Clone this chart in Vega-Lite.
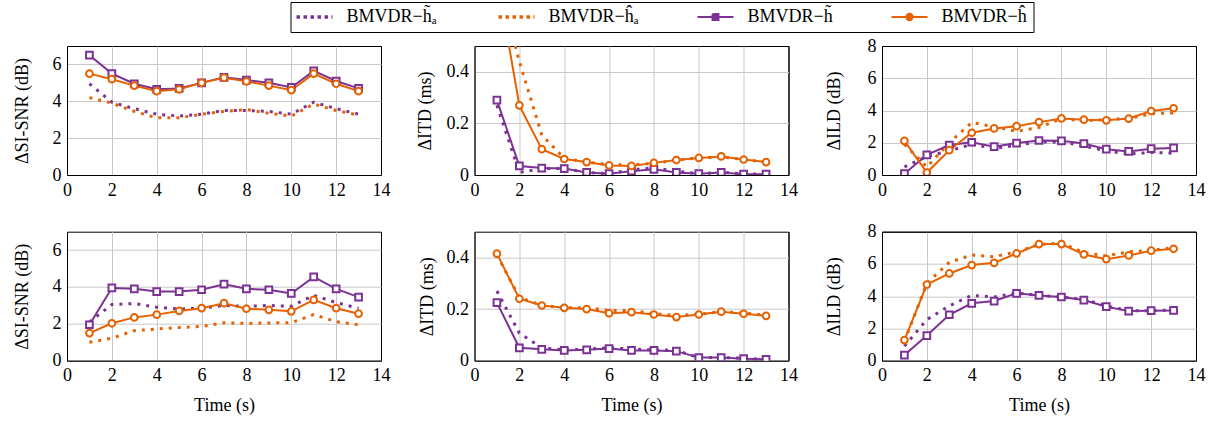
{
"$schema": "https://vega.github.io/schema/vega-lite/v6.json",
"autosize": "none",
"padding": {"left": 67, "top": 46, "right": 1153, "bottom": 378},
"background": "white",
"datasets": {"d": [
{"p":"a","s":"t","t":1,"v":6.5},{"p":"a","s":"t","t":2,"v":5.5},{"p":"a","s":"t","t":3,"v":4.95},{"p":"a","s":"t","t":4,"v":4.65},{"p":"a","s":"t","t":5,"v":4.7},{"p":"a","s":"t","t":6,"v":5.0},{"p":"a","s":"t","t":7,"v":5.3},{"p":"a","s":"t","t":8,"v":5.15},{"p":"a","s":"t","t":9,"v":5.0},{"p":"a","s":"t","t":10,"v":4.75},{"p":"a","s":"t","t":11,"v":5.65},{"p":"a","s":"t","t":12,"v":5.1},{"p":"a","s":"t","t":13,"v":4.7},
{"p":"a","s":"h","t":1,"v":5.5},{"p":"a","s":"h","t":2,"v":5.2},{"p":"a","s":"h","t":3,"v":4.85},{"p":"a","s":"h","t":4,"v":4.55},{"p":"a","s":"h","t":5,"v":4.65},{"p":"a","s":"h","t":6,"v":5.0},{"p":"a","s":"h","t":7,"v":5.28},{"p":"a","s":"h","t":8,"v":5.08},{"p":"a","s":"h","t":9,"v":4.85},{"p":"a","s":"h","t":10,"v":4.6},{"p":"a","s":"h","t":11,"v":5.5},{"p":"a","s":"h","t":12,"v":4.95},{"p":"a","s":"h","t":13,"v":4.55},
{"p":"a","s":"tA","t":1,"v":4.95},{"p":"a","s":"tA","t":2,"v":3.95},{"p":"a","s":"tA","t":3,"v":3.6},{"p":"a","s":"tA","t":4,"v":3.3},{"p":"a","s":"tA","t":5,"v":3.2},{"p":"a","s":"tA","t":6,"v":3.3},{"p":"a","s":"tA","t":7,"v":3.5},{"p":"a","s":"tA","t":8,"v":3.5},{"p":"a","s":"tA","t":9,"v":3.45},{"p":"a","s":"tA","t":10,"v":3.3},{"p":"a","s":"tA","t":11,"v":3.95},{"p":"a","s":"tA","t":12,"v":3.6},{"p":"a","s":"tA","t":13,"v":3.3},
{"p":"a","s":"hA","t":1,"v":4.2},{"p":"a","s":"hA","t":2,"v":3.9},{"p":"a","s":"hA","t":3,"v":3.45},{"p":"a","s":"hA","t":4,"v":3.1},{"p":"a","s":"hA","t":5,"v":3.1},{"p":"a","s":"hA","t":6,"v":3.3},{"p":"a","s":"hA","t":7,"v":3.45},{"p":"a","s":"hA","t":8,"v":3.55},{"p":"a","s":"hA","t":9,"v":3.35},{"p":"a","s":"hA","t":10,"v":3.2},{"p":"a","s":"hA","t":11,"v":3.85},{"p":"a","s":"hA","t":12,"v":3.5},{"p":"a","s":"hA","t":13,"v":3.25},
{"p":"b","s":"t","t":1,"v":0.29},{"p":"b","s":"t","t":2,"v":0.035},{"p":"b","s":"t","t":3,"v":0.027},{"p":"b","s":"t","t":4,"v":0.025},{"p":"b","s":"t","t":5,"v":0.01},{"p":"b","s":"t","t":6,"v":0.005},{"p":"b","s":"t","t":7,"v":0.015},{"p":"b","s":"t","t":8,"v":0.022},{"p":"b","s":"t","t":9,"v":0.01},{"p":"b","s":"t","t":10,"v":0.005},{"p":"b","s":"t","t":11,"v":0.01},{"p":"b","s":"t","t":12,"v":0.003},{"p":"b","s":"t","t":13,"v":0.003},
{"p":"b","s":"tA","t":1,"v":0.27},{"p":"b","s":"tA","t":2,"v":0.01},{"p":"b","s":"tA","t":3,"v":0.025},{"p":"b","s":"tA","t":4,"v":0.025},{"p":"b","s":"tA","t":5,"v":0.01},{"p":"b","s":"tA","t":6,"v":0.005},{"p":"b","s":"tA","t":7,"v":0.02},{"p":"b","s":"tA","t":8,"v":0.028},{"p":"b","s":"tA","t":9,"v":0.015},{"p":"b","s":"tA","t":10,"v":0.005},{"p":"b","s":"tA","t":11,"v":0.01},{"p":"b","s":"tA","t":12,"v":0.005},{"p":"b","s":"tA","t":13,"v":0.003},
{"p":"b","s":"h","t":1,"v":0.77},{"p":"b","s":"h","t":2,"v":0.27},{"p":"b","s":"h","t":3,"v":0.1},{"p":"b","s":"h","t":4,"v":0.062},{"p":"b","s":"h","t":5,"v":0.05},{"p":"b","s":"h","t":6,"v":0.037},{"p":"b","s":"h","t":7,"v":0.035},{"p":"b","s":"h","t":8,"v":0.047},{"p":"b","s":"h","t":9,"v":0.058},{"p":"b","s":"h","t":10,"v":0.066},{"p":"b","s":"h","t":11,"v":0.072},{"p":"b","s":"h","t":12,"v":0.06},{"p":"b","s":"h","t":13,"v":0.05},
{"p":"b","s":"hA","t":1,"v":0.77},{"p":"b","s":"hA","t":2,"v":0.44},{"p":"b","s":"hA","t":3,"v":0.155},{"p":"b","s":"hA","t":4,"v":0.065},{"p":"b","s":"hA","t":5,"v":0.05},{"p":"b","s":"hA","t":6,"v":0.04},{"p":"b","s":"hA","t":7,"v":0.04},{"p":"b","s":"hA","t":8,"v":0.045},{"p":"b","s":"hA","t":9,"v":0.058},{"p":"b","s":"hA","t":10,"v":0.066},{"p":"b","s":"hA","t":11,"v":0.07},{"p":"b","s":"hA","t":12,"v":0.06},{"p":"b","s":"hA","t":13,"v":0.05},
{"p":"c","s":"t","t":1,"v":0.08},{"p":"c","s":"t","t":2,"v":1.25},{"p":"c","s":"t","t":3,"v":1.86},{"p":"c","s":"t","t":4,"v":2.03},{"p":"c","s":"t","t":5,"v":1.76},{"p":"c","s":"t","t":6,"v":1.98},{"p":"c","s":"t","t":7,"v":2.14},{"p":"c","s":"t","t":8,"v":2.12},{"p":"c","s":"t","t":9,"v":1.95},{"p":"c","s":"t","t":10,"v":1.6},{"p":"c","s":"t","t":11,"v":1.46},{"p":"c","s":"t","t":12,"v":1.63},{"p":"c","s":"t","t":13,"v":1.68},
{"p":"c","s":"tA","t":1,"v":0.5},{"p":"c","s":"tA","t":2,"v":1.15},{"p":"c","s":"tA","t":3,"v":1.5},{"p":"c","s":"tA","t":4,"v":1.9},{"p":"c","s":"tA","t":5,"v":1.65},{"p":"c","s":"tA","t":6,"v":1.85},{"p":"c","s":"tA","t":7,"v":2.05},{"p":"c","s":"tA","t":8,"v":2.05},{"p":"c","s":"tA","t":9,"v":1.8},{"p":"c","s":"tA","t":10,"v":1.5},{"p":"c","s":"tA","t":11,"v":1.3},{"p":"c","s":"tA","t":12,"v":1.4},{"p":"c","s":"tA","t":13,"v":1.35},
{"p":"c","s":"h","t":1,"v":2.12},{"p":"c","s":"h","t":2,"v":0.15},{"p":"c","s":"h","t":3,"v":1.54},{"p":"c","s":"h","t":4,"v":2.62},{"p":"c","s":"h","t":5,"v":2.89},{"p":"c","s":"h","t":6,"v":3.03},{"p":"c","s":"h","t":7,"v":3.28},{"p":"c","s":"h","t":8,"v":3.51},{"p":"c","s":"h","t":9,"v":3.43},{"p":"c","s":"h","t":10,"v":3.39},{"p":"c","s":"h","t":11,"v":3.5},{"p":"c","s":"h","t":12,"v":3.97},{"p":"c","s":"h","t":13,"v":4.14},
{"p":"c","s":"hA","t":1,"v":1.9},{"p":"c","s":"hA","t":2,"v":0.5},{"p":"c","s":"hA","t":3,"v":2.0},{"p":"c","s":"hA","t":4,"v":3.25},{"p":"c","s":"hA","t":5,"v":3.0},{"p":"c","s":"hA","t":6,"v":2.7},{"p":"c","s":"hA","t":7,"v":2.95},{"p":"c","s":"hA","t":8,"v":3.5},{"p":"c","s":"hA","t":9,"v":3.35},{"p":"c","s":"hA","t":10,"v":3.45},{"p":"c","s":"hA","t":11,"v":3.5},{"p":"c","s":"hA","t":12,"v":3.8},{"p":"c","s":"hA","t":13,"v":3.85},
{"p":"d","s":"t","t":1,"v":1.95},{"p":"d","s":"t","t":2,"v":3.95},{"p":"d","s":"t","t":3,"v":3.9},{"p":"d","s":"t","t":4,"v":3.75},{"p":"d","s":"t","t":5,"v":3.75},{"p":"d","s":"t","t":6,"v":3.85},{"p":"d","s":"t","t":7,"v":4.15},{"p":"d","s":"t","t":8,"v":3.9},{"p":"d","s":"t","t":9,"v":3.85},{"p":"d","s":"t","t":10,"v":3.65},{"p":"d","s":"t","t":11,"v":4.55},{"p":"d","s":"t","t":12,"v":3.9},{"p":"d","s":"t","t":13,"v":3.45},
{"p":"d","s":"h","t":1,"v":1.5},{"p":"d","s":"h","t":2,"v":2.03},{"p":"d","s":"h","t":3,"v":2.35},{"p":"d","s":"h","t":4,"v":2.5},{"p":"d","s":"h","t":5,"v":2.7},{"p":"d","s":"h","t":6,"v":2.85},{"p":"d","s":"h","t":7,"v":3.12},{"p":"d","s":"h","t":8,"v":2.82},{"p":"d","s":"h","t":9,"v":2.76},{"p":"d","s":"h","t":10,"v":2.68},{"p":"d","s":"h","t":11,"v":3.3},{"p":"d","s":"h","t":12,"v":2.85},{"p":"d","s":"h","t":13,"v":2.55},
{"p":"d","s":"tA","t":1,"v":2.1},{"p":"d","s":"tA","t":2,"v":3.05},{"p":"d","s":"tA","t":3,"v":3.1},{"p":"d","s":"tA","t":4,"v":2.9},{"p":"d","s":"tA","t":5,"v":2.8},{"p":"d","s":"tA","t":6,"v":2.85},{"p":"d","s":"tA","t":7,"v":3.0},{"p":"d","s":"tA","t":8,"v":2.95},{"p":"d","s":"tA","t":9,"v":3.0},{"p":"d","s":"tA","t":10,"v":2.95},{"p":"d","s":"tA","t":11,"v":3.55},{"p":"d","s":"tA","t":12,"v":3.15},{"p":"d","s":"tA","t":13,"v":2.85},
{"p":"d","s":"hA","t":1,"v":1.0},{"p":"d","s":"hA","t":2,"v":1.22},{"p":"d","s":"hA","t":3,"v":1.63},{"p":"d","s":"hA","t":4,"v":1.72},{"p":"d","s":"hA","t":5,"v":1.8},{"p":"d","s":"hA","t":6,"v":1.86},{"p":"d","s":"hA","t":7,"v":2.06},{"p":"d","s":"hA","t":8,"v":2.02},{"p":"d","s":"hA","t":9,"v":2.05},{"p":"d","s":"hA","t":10,"v":2.06},{"p":"d","s":"hA","t":11,"v":2.5},{"p":"d","s":"hA","t":12,"v":2.12},{"p":"d","s":"hA","t":13,"v":1.95},
{"p":"e","s":"t","t":1,"v":0.225},{"p":"e","s":"t","t":2,"v":0.05},{"p":"e","s":"t","t":3,"v":0.044},{"p":"e","s":"t","t":4,"v":0.04},{"p":"e","s":"t","t":5,"v":0.042},{"p":"e","s":"t","t":6,"v":0.047},{"p":"e","s":"t","t":7,"v":0.04},{"p":"e","s":"t","t":8,"v":0.04},{"p":"e","s":"t","t":9,"v":0.037},{"p":"e","s":"t","t":10,"v":0.012},{"p":"e","s":"t","t":11,"v":0.012},{"p":"e","s":"t","t":12,"v":0.008},{"p":"e","s":"t","t":13,"v":0.005},
{"p":"e","s":"tA","t":1,"v":0.27},{"p":"e","s":"tA","t":2,"v":0.107},{"p":"e","s":"tA","t":3,"v":0.05},{"p":"e","s":"tA","t":4,"v":0.042},{"p":"e","s":"tA","t":5,"v":0.045},{"p":"e","s":"tA","t":6,"v":0.05},{"p":"e","s":"tA","t":7,"v":0.045},{"p":"e","s":"tA","t":8,"v":0.042},{"p":"e","s":"tA","t":9,"v":0.04},{"p":"e","s":"tA","t":10,"v":0.012},{"p":"e","s":"tA","t":11,"v":0.012},{"p":"e","s":"tA","t":12,"v":0.01},{"p":"e","s":"tA","t":13,"v":0.005},
{"p":"e","s":"h","t":1,"v":0.415},{"p":"e","s":"h","t":2,"v":0.24},{"p":"e","s":"h","t":3,"v":0.214},{"p":"e","s":"h","t":4,"v":0.205},{"p":"e","s":"h","t":5,"v":0.2},{"p":"e","s":"h","t":6,"v":0.184},{"p":"e","s":"h","t":7,"v":0.188},{"p":"e","s":"h","t":8,"v":0.179},{"p":"e","s":"h","t":9,"v":0.169},{"p":"e","s":"h","t":10,"v":0.179},{"p":"e","s":"h","t":11,"v":0.19},{"p":"e","s":"h","t":12,"v":0.182},{"p":"e","s":"h","t":13,"v":0.174},
{"p":"e","s":"hA","t":1,"v":0.41},{"p":"e","s":"hA","t":2,"v":0.245},{"p":"e","s":"hA","t":3,"v":0.215},{"p":"e","s":"hA","t":4,"v":0.205},{"p":"e","s":"hA","t":5,"v":0.205},{"p":"e","s":"hA","t":6,"v":0.195},{"p":"e","s":"hA","t":7,"v":0.195},{"p":"e","s":"hA","t":8,"v":0.182},{"p":"e","s":"hA","t":9,"v":0.175},{"p":"e","s":"hA","t":10,"v":0.18},{"p":"e","s":"hA","t":11,"v":0.19},{"p":"e","s":"hA","t":12,"v":0.185},{"p":"e","s":"hA","t":13,"v":0.175},
{"p":"f","s":"t","t":1,"v":0.35},{"p":"f","s":"t","t":2,"v":1.56},{"p":"f","s":"t","t":3,"v":2.85},{"p":"f","s":"t","t":4,"v":3.56},{"p":"f","s":"t","t":5,"v":3.7},{"p":"f","s":"t","t":6,"v":4.18},{"p":"f","s":"t","t":7,"v":4.05},{"p":"f","s":"t","t":8,"v":3.95},{"p":"f","s":"t","t":9,"v":3.76},{"p":"f","s":"t","t":10,"v":3.35},{"p":"f","s":"t","t":11,"v":3.08},{"p":"f","s":"t","t":12,"v":3.1},{"p":"f","s":"t","t":13,"v":3.12},
{"p":"f","s":"tA","t":1,"v":0.9},{"p":"f","s":"tA","t":2,"v":2.55},{"p":"f","s":"tA","t":3,"v":3.4},{"p":"f","s":"tA","t":4,"v":4.05},{"p":"f","s":"tA","t":5,"v":3.95},{"p":"f","s":"tA","t":6,"v":4.2},{"p":"f","s":"tA","t":7,"v":4.05},{"p":"f","s":"tA","t":8,"v":3.95},{"p":"f","s":"tA","t":9,"v":3.8},{"p":"f","s":"tA","t":10,"v":3.4},{"p":"f","s":"tA","t":11,"v":3.1},{"p":"f","s":"tA","t":12,"v":3.1},{"p":"f","s":"tA","t":13,"v":3.15},
{"p":"f","s":"h","t":1,"v":1.28},{"p":"f","s":"h","t":2,"v":4.72},{"p":"f","s":"h","t":3,"v":5.41},{"p":"f","s":"h","t":4,"v":5.93},{"p":"f","s":"h","t":5,"v":6.07},{"p":"f","s":"h","t":6,"v":6.65},{"p":"f","s":"h","t":7,"v":7.23},{"p":"f","s":"h","t":8,"v":7.23},{"p":"f","s":"h","t":9,"v":6.59},{"p":"f","s":"h","t":10,"v":6.3},{"p":"f","s":"h","t":11,"v":6.53},{"p":"f","s":"h","t":12,"v":6.82},{"p":"f","s":"h","t":13,"v":6.94},
{"p":"f","s":"hA","t":1,"v":1.2},{"p":"f","s":"hA","t":2,"v":4.8},{"p":"f","s":"hA","t":3,"v":6.1},{"p":"f","s":"hA","t":4,"v":6.55},{"p":"f","s":"hA","t":5,"v":6.45},{"p":"f","s":"hA","t":6,"v":6.75},{"p":"f","s":"hA","t":7,"v":7.2},{"p":"f","s":"hA","t":8,"v":7.3},{"p":"f","s":"hA","t":9,"v":6.7},{"p":"f","s":"hA","t":10,"v":6.5},{"p":"f","s":"hA","t":11,"v":6.75},{"p":"f","s":"hA","t":12,"v":6.85},{"p":"f","s":"hA","t":13,"v":7.0}
]},
"data": {"name": "d"},
"columns": 3,
"bounds": "flush",
"spacing": {"row": 56.7, "column": 93.5},
"concat": [
{"width":314,"height":129,"transform":[{"filter":"datum.p=='a'"}],
 "encoding":{"x":{"field":"t","type":"quantitative","scale":{"domain":[0,14],"nice":false},"axis":{"values":[0,2,4,6,8,10,12,14],"title":null,"gridColor":{"condition":{"test":"datum.value==14","value":"black"},"value":"#c8c8c8"}}},
  "y":{"field":"v","type":"quantitative","scale":{"domain":[0,7],"nice":false},"axis":{"values":[0,2,4,6],"title":"\u0394SI-SNR (dB)","titlePadding":21}}},
 "layer":[
  {"transform":[{"filter":"datum.s=='tA'||datum.s=='hA'"}],"mark":{"type":"line","strokeWidth":3,"strokeDash":[3,6],"clip":true},
   "encoding":{"color":{"field":"s","type":"nominal","scale":{"domain":["tA","hA","t","h"],"range":["#7b3294","#e66101","#7b3294","#e66101"]},
    "legend":{"orient":"none","legendX":223.5,"legendY":-44,"direction":"horizontal","columns":4,"columnPadding":54,"title":null,"symbolSize":324,"labelOffset":32,"labelFont":"Liberation Serif","labelFontSize":18,"labelColor":"black","strokeColor":"black","fillColor":"white","padding":6,"labelLimit":300,
     "labelExpr":"datum.value=='tA'?'BMVDR\u2212h\u0303\u2090':datum.value=='hA'?'BMVDR\u2212\u0125\u2090':datum.value=='t'?'BMVDR\u2212h\u0303':'BMVDR\u2212\u0125'",
     "encode":{"symbols":{"update":{
      "shape":{"signal":"datum.value=='t'?'M-1,0L3,0M0.67,-0.33L1.33,-0.33L1.33,0.33L0.67,0.33Z':datum.value=='h'?'M-1,0L3,0M1.35,0A0.35,0.35 0 1 1 0.65,0A0.35,0.35 0 1 1 1.35,0Z':'M-1,0L3,0'"},
      "strokeDash":{"signal":"datum.value=='tA'||datum.value=='hA'?[3.5,3.5]:[100,0]"},
      "strokeWidth":{"signal":"datum.value=='tA'||datum.value=='hA'?3.5:2"},
      "fill":{"signal":"datum.value=='t'?'#7b3294':datum.value=='h'?'#e66101':'transparent'"},
      "opacity":{"value":1}}}}}}}},
  {"transform":[{"filter":"datum.s=='t'||datum.s=='h'"}],"mark":{"type":"line","strokeWidth":2,"clip":true},
   "encoding":{"color":{"field":"s","type":"nominal","scale":{"domain":["tA","hA","t","h"],"range":["#7b3294","#e66101","#7b3294","#e66101"]}}}},
  {"transform":[{"filter":"datum.s=='t'||datum.s=='h'"}],"mark":{"type":"point","filled":false,"fill":"white","strokeWidth":2,"size":45,"opacity":1,"clip":true},
   "encoding":{"color":{"field":"s","type":"nominal","scale":{"domain":["tA","hA","t","h"],"range":["#7b3294","#e66101","#7b3294","#e66101"]}},"shape":{"field":"s","type":"nominal","scale":{"domain":["t","h"],"range":["square","circle"]},"legend":null}}},
  {"data":{"values":[{}]},"mark":{"type":"text","text":"(a)","align":"right","baseline":"middle","fontSize":18,"font":"Liberation Serif","color":"black"},"encoding":{"x":{"datum":13.85},"y":{"datum":6}}}
 ]},
{"width":314,"height":129,"transform":[{"filter":"datum.p=='b'"}],
 "encoding":{"x":{"field":"t","type":"quantitative","scale":{"domain":[0,14],"nice":false},"axis":{"values":[0,2,4,6,8,10,12,14],"title":null,"gridColor":{"condition":{"test":"datum.value==14","value":"black"},"value":"#c8c8c8"}}},
  "y":{"field":"v","type":"quantitative","scale":{"domain":[0,0.5],"nice":false},"axis":{"values":[0,0.2,0.4],"format":"~g","title":"\u0394ITD (ms)","titlePadding":12}}},
 "layer":[
  {"transform":[{"filter":"datum.s=='tA'||datum.s=='hA'"}],"mark":{"type":"line","strokeWidth":3,"strokeDash":[3,6],"clip":true},
   "encoding":{"color":{"field":"s","type":"nominal","scale":{"domain":["tA","hA","t","h"],"range":["#7b3294","#e66101","#7b3294","#e66101"]}}}},
  {"transform":[{"filter":"datum.s=='t'||datum.s=='h'"}],"mark":{"type":"line","strokeWidth":2,"clip":true},
   "encoding":{"color":{"field":"s","type":"nominal","scale":{"domain":["tA","hA","t","h"],"range":["#7b3294","#e66101","#7b3294","#e66101"]}}}},
  {"transform":[{"filter":"datum.s=='t'||datum.s=='h'"}],"mark":{"type":"point","filled":false,"fill":"white","strokeWidth":2,"size":45,"opacity":1,"clip":true},
   "encoding":{"color":{"field":"s","type":"nominal","scale":{"domain":["tA","hA","t","h"],"range":["#7b3294","#e66101","#7b3294","#e66101"]}},"shape":{"field":"s","type":"nominal","scale":{"domain":["t","h"],"range":["square","circle"]},"legend":null}}},
  {"data":{"values":[{}]},"mark":{"type":"text","text":"(b)","align":"right","baseline":"middle","fontSize":18,"font":"Liberation Serif","color":"black"},"encoding":{"x":{"datum":13.85},"y":{"datum":0.43}}}
 ]},
{"width":314,"height":129,"transform":[{"filter":"datum.p=='c'"}],
 "encoding":{"x":{"field":"t","type":"quantitative","scale":{"domain":[0,14],"nice":false},"axis":{"values":[0,2,4,6,8,10,12,14],"title":null,"gridColor":{"condition":{"test":"datum.value==14","value":"black"},"value":"#c8c8c8"}}},
  "y":{"field":"v","type":"quantitative","scale":{"domain":[0,8],"nice":false},"axis":{"values":[0,2,4,6,8],"title":"\u0394ILD (dB)","titlePadding":24,"gridColor":{"condition":{"test":"datum.value==8","value":"black"},"value":"#c8c8c8"}}}},
 "layer":[
  {"transform":[{"filter":"datum.s=='tA'||datum.s=='hA'"}],"mark":{"type":"line","strokeWidth":3,"strokeDash":[3,6],"clip":true},
   "encoding":{"color":{"field":"s","type":"nominal","scale":{"domain":["tA","hA","t","h"],"range":["#7b3294","#e66101","#7b3294","#e66101"]}}}},
  {"transform":[{"filter":"datum.s=='t'||datum.s=='h'"}],"mark":{"type":"line","strokeWidth":2,"clip":true},
   "encoding":{"color":{"field":"s","type":"nominal","scale":{"domain":["tA","hA","t","h"],"range":["#7b3294","#e66101","#7b3294","#e66101"]}}}},
  {"transform":[{"filter":"datum.s=='t'||datum.s=='h'"}],"mark":{"type":"point","filled":false,"fill":"white","strokeWidth":2,"size":45,"opacity":1,"clip":true},
   "encoding":{"color":{"field":"s","type":"nominal","scale":{"domain":["tA","hA","t","h"],"range":["#7b3294","#e66101","#7b3294","#e66101"]}},"shape":{"field":"s","type":"nominal","scale":{"domain":["t","h"],"range":["square","circle"]},"legend":null}}},
  {"data":{"values":[{}]},"mark":{"type":"text","text":"(c)","align":"right","baseline":"middle","fontSize":18,"font":"Liberation Serif","color":"black"},"encoding":{"x":{"datum":13.85},"y":{"datum":7}}}
 ]},
{"width":314,"height":129,"transform":[{"filter":"datum.p=='d'"}],
 "encoding":{"x":{"field":"t","type":"quantitative","scale":{"domain":[0,14],"nice":false},"axis":{"values":[0,2,4,6,8,10,12,14],"title":"Time (s)","gridColor":{"condition":{"test":"datum.value==14","value":"black"},"value":"#c8c8c8"}}},
  "y":{"field":"v","type":"quantitative","scale":{"domain":[0,7],"nice":false},"axis":{"values":[0,2,4,6],"title":"\u0394SI-SNR (dB)","titlePadding":21}}},
 "layer":[
  {"transform":[{"filter":"datum.s=='tA'||datum.s=='hA'"}],"mark":{"type":"line","strokeWidth":3,"strokeDash":[3,6],"clip":true},
   "encoding":{"color":{"field":"s","type":"nominal","scale":{"domain":["tA","hA","t","h"],"range":["#7b3294","#e66101","#7b3294","#e66101"]}}}},
  {"transform":[{"filter":"datum.s=='t'||datum.s=='h'"}],"mark":{"type":"line","strokeWidth":2,"clip":true},
   "encoding":{"color":{"field":"s","type":"nominal","scale":{"domain":["tA","hA","t","h"],"range":["#7b3294","#e66101","#7b3294","#e66101"]}}}},
  {"transform":[{"filter":"datum.s=='t'||datum.s=='h'"}],"mark":{"type":"point","filled":false,"fill":"white","strokeWidth":2,"size":45,"opacity":1,"clip":true},
   "encoding":{"color":{"field":"s","type":"nominal","scale":{"domain":["tA","hA","t","h"],"range":["#7b3294","#e66101","#7b3294","#e66101"]}},"shape":{"field":"s","type":"nominal","scale":{"domain":["t","h"],"range":["square","circle"]},"legend":null}}},
  {"data":{"values":[{}]},"mark":{"type":"text","text":"(d)","align":"right","baseline":"middle","fontSize":18,"font":"Liberation Serif","color":"black"},"encoding":{"x":{"datum":13.85},"y":{"datum":6}}}
 ]},
{"width":314,"height":129,"transform":[{"filter":"datum.p=='e'"}],
 "encoding":{"x":{"field":"t","type":"quantitative","scale":{"domain":[0,14],"nice":false},"axis":{"values":[0,2,4,6,8,10,12,14],"title":"Time (s)","gridColor":{"condition":{"test":"datum.value==14","value":"black"},"value":"#c8c8c8"}}},
  "y":{"field":"v","type":"quantitative","scale":{"domain":[0,0.5],"nice":false},"axis":{"values":[0,0.2,0.4],"format":"~g","title":"\u0394ITD (ms)","titlePadding":10}}},
 "layer":[
  {"transform":[{"filter":"datum.s=='tA'||datum.s=='hA'"}],"mark":{"type":"line","strokeWidth":3,"strokeDash":[3,6],"clip":true},
   "encoding":{"color":{"field":"s","type":"nominal","scale":{"domain":["tA","hA","t","h"],"range":["#7b3294","#e66101","#7b3294","#e66101"]}}}},
  {"transform":[{"filter":"datum.s=='t'||datum.s=='h'"}],"mark":{"type":"line","strokeWidth":2,"clip":true},
   "encoding":{"color":{"field":"s","type":"nominal","scale":{"domain":["tA","hA","t","h"],"range":["#7b3294","#e66101","#7b3294","#e66101"]}}}},
  {"transform":[{"filter":"datum.s=='t'||datum.s=='h'"}],"mark":{"type":"point","filled":false,"fill":"white","strokeWidth":2,"size":45,"opacity":1,"clip":true},
   "encoding":{"color":{"field":"s","type":"nominal","scale":{"domain":["tA","hA","t","h"],"range":["#7b3294","#e66101","#7b3294","#e66101"]}},"shape":{"field":"s","type":"nominal","scale":{"domain":["t","h"],"range":["square","circle"]},"legend":null}}},
  {"data":{"values":[{}]},"mark":{"type":"text","text":"(e)","align":"right","baseline":"middle","fontSize":18,"font":"Liberation Serif","color":"black"},"encoding":{"x":{"datum":13.85},"y":{"datum":0.42}}}
 ]},
{"width":314,"height":129,"transform":[{"filter":"datum.p=='f'"}],
 "encoding":{"x":{"field":"t","type":"quantitative","scale":{"domain":[0,14],"nice":false},"axis":{"values":[0,2,4,6,8,10,12,14],"title":"Time (s)","gridColor":{"condition":{"test":"datum.value==14","value":"black"},"value":"#c8c8c8"}}},
  "y":{"field":"v","type":"quantitative","scale":{"domain":[0,8],"nice":false},"axis":{"values":[0,2,4,6,8],"title":"\u0394ILD (dB)","titlePadding":24,"gridColor":{"condition":{"test":"datum.value==8","value":"black"},"value":"#c8c8c8"}}}},
 "layer":[
  {"transform":[{"filter":"datum.s=='tA'||datum.s=='hA'"}],"mark":{"type":"line","strokeWidth":3,"strokeDash":[3,6],"clip":true},
   "encoding":{"color":{"field":"s","type":"nominal","scale":{"domain":["tA","hA","t","h"],"range":["#7b3294","#e66101","#7b3294","#e66101"]}}}},
  {"transform":[{"filter":"datum.s=='t'||datum.s=='h'"}],"mark":{"type":"line","strokeWidth":2,"clip":true},
   "encoding":{"color":{"field":"s","type":"nominal","scale":{"domain":["tA","hA","t","h"],"range":["#7b3294","#e66101","#7b3294","#e66101"]}}}},
  {"transform":[{"filter":"datum.s=='t'||datum.s=='h'"}],"mark":{"type":"point","filled":false,"fill":"white","strokeWidth":2,"size":45,"opacity":1,"clip":true},
   "encoding":{"color":{"field":"s","type":"nominal","scale":{"domain":["tA","hA","t","h"],"range":["#7b3294","#e66101","#7b3294","#e66101"]}},"shape":{"field":"s","type":"nominal","scale":{"domain":["t","h"],"range":["square","circle"]},"legend":null}}},
  {"data":{"values":[{}]},"mark":{"type":"text","text":"(f)","align":"right","baseline":"middle","fontSize":18,"font":"Liberation Serif","color":"black"},"encoding":{"x":{"datum":13.85},"y":{"datum":7}}}
 ]}
],
"config": {
 "font": "Liberation Serif",
 "view": {"stroke": "black", "strokeWidth": 1},
 "axis": {"labelFont": "Liberation Serif", "labelFontSize": 18, "labelColor": "black", "titleFont": "Liberation Serif", "titleFontSize": 18, "titleFontWeight": "normal", "titleColor": "black", "domainColor": "black", "domainWidth": 1, "ticks": false, "tickSize": 0, "grid": true, "gridColor": "#c8c8c8", "gridWidth": 1, "labelPadding": 6, "labelFlush": false, "labelOverlap": false},
 "axisX": {"titlePadding": 12, "labelFont": "Liberation Serif", "titleFont": "Liberation Serif"},
 "axisY": {"labelFont": "Liberation Serif", "titleFont": "Liberation Serif"},
 "legend": {"labelFont": "Liberation Serif"}
}
}
